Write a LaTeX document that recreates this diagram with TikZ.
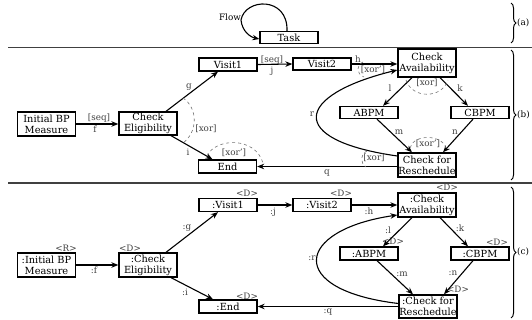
\documentclass[tikz,border=0pt]{standalone}
\usepackage{fontspec}
\setmainfont{DejaVu Serif}
\usetikzlibrary{arrows.meta,calc,decorations.pathreplacing}
\begin{document}
\begin{tikzpicture}[x=1pt,y=-1pt,
  task/.style={draw,line width=1.3pt,minimum width=58pt,minimum height=12pt,inner sep=0pt,align=center,font=\fontsize{9.8}{11}\selectfont},
  flow/.style={line width=1.1pt,-{Stealth[length=7pt,width=5.5pt]}},
  lbl/.style={font=\fontsize{8.8}{10}\selectfont,text=black!75,inner sep=0pt},
  gate/.style={dashed,black!55,line width=0.6pt},
  sep/.style={line width=1.3pt,black!75},
  brc/.style={decorate,decoration={brace,amplitude=5pt},line width=1pt}]
\useasboundingbox (0,0) rectangle (532,320);
\node[task] (task) at (289,37.5) {Task};
\node[lbl,text=black] (lflow) at (230,17) {Flow};
\draw[flow] ($(task.north)+(-2,0)$) .. controls (288,-4) and (245,-2) .. (241,20) .. controls (242,31) and (250,37) .. ($(task.west)+(0,1.5)$);
\draw[sep] (8,47.5) -- (532,47.5);
\draw[brc] (511,3) -- (511,43);
\node[lbl,anchor=west,text=black] (la) at (517,23) {(a)};
\node[task,minimum height=24pt] (ibp) at (46.5,124) {Initial BP\\Measure};
\node[task,minimum height=23pt] (ce) at (148,123.5) {Check\\Eligibility};
\node[task,minimum height=13pt] (v1) at (228,64.5) {Visit1};
\node[task] (v2) at (322,64) {Visit2};
\node[task,minimum height=28pt] (ca) at (427,63) {Check\\Availability};
\node[task] (abpm) at (369,112.5) {ABPM};
\node[task] (cbpm) at (480,112.5) {CBPM};
\node[task,minimum height=13pt] (en) at (227.5,166.5) {End};
\node[task,minimum height=24pt] (cfr) at (427,165) {Check for\\Reschedule};
\draw[flow] (ibp.east) -- (ibp.east -| ce.west);
\draw[flow] ($(ce.north)+(18,0)$) -- ($(v1.south)+(-10,0)$);
\draw[flow] ($(ce.south)+(23,0)$) -- ($(en.north)+(-15,0)$);
\draw[flow] (v1.east) -- (v2.west);
\draw[flow] (v2.east) -- (v2.east -| ca.west);
\draw[flow] ($(ca.south)+(-15,0)$) -- ($(abpm.north)+(14,0)$);
\draw[flow] ($(ca.south)+(13,0)$) -- ($(cbpm.north)+(-12,0)$);
\draw[flow] ($(abpm.south)+(8,0)$) -- ($(cfr.north)+(-15,0)$);
\draw[flow] ($(cbpm.south)+(-7,0)$) -- ($(cfr.north)+(16,0)$);
\draw[flow] (cfr.west |- en.east) -- (en.east);
\draw[flow] ($(cfr.west)+(0,-9)$) .. controls (285,140) and (295,95) .. ($(ca.west)+(0,7)$);
\draw[gate] (183,98) .. controls (198,108) and (198,132) .. (183,143);
\draw[gate] (207,156) .. controls (215,138) and (255,136) .. (263,163);
\draw[gate] (363,62) .. controls (356,65) and (356,74) .. (364,77);
\draw[gate] (406,80) .. controls (412,99) and (442,99) .. (448,80);
\draw[gate] (410,148) .. controls (413,134) and (442,134) .. (446,148);
\draw[gate] (367,151) .. controls (360,154) and (360,163) .. (366,167);
\node[lbl] (lseqf) at (99,118) {[seq]};
\node[lbl] (lf) at (95,129) {f};
\node[lbl] (lg) at (189,87) {g};
\node[lbl] (lxorce) at (206,129) {[xor]};
\node[lbl] (li) at (188,152) {i};
\node[lbl] (lxoren) at (234,153) {[xor']};
\node[lbl] (lseqj) at (272,60) {[seq]};
\node[lbl] (lj) at (272,71) {j};
\node[lbl] (lh) at (358,59) {h};
\node[lbl] (lxorca) at (373,70) {[xor']};
\node[lbl] (ll) at (390,88) {l};
\node[lbl] (lk) at (460,88) {k};
\node[lbl] (lxorlk) at (427,83) {[xor]};
\node[lbl] (lr) at (312,114) {r};
\node[lbl] (lm) at (399,132) {m};
\node[lbl] (ln) at (455,132) {n};
\node[lbl] (lxormn) at (428,144) {[xor']};
\node[lbl] (lxorcfr) at (374,158) {[xor]};
\node[lbl] (lq) at (327,173) {q};
\draw[sep] (8,183) -- (532,183);
\draw[brc] (511,50) -- (511,180);
\node[lbl,anchor=west,text=black] (lb) at (517,115) {(b)};
\node[task,minimum height=24pt] (ibp2) at (46.5,265) {:Initial BP\\Measure};
\node[task,minimum height=24pt] (ce2) at (148,265) {:Check\\Eligibility};
\node[task,minimum height=13pt] (v1c) at (228,205) {:Visit1};
\node[task,minimum height=13pt] (v2c) at (322,205) {:Visit2};
\node[task,minimum height=24pt] (ca2) at (427,205) {:Check\\Availability};
\node[task,minimum height=13pt] (abpm2) at (369,253.5) {:ABPM};
\node[task,minimum height=13pt] (cbpm2) at (480,253.5) {:CBPM};
\node[task,minimum height=13pt] (en2) at (228,306.5) {:End};
\node[task,minimum height=23pt] (cfr2) at (428,306.5) {:Check for\\Reschedule};
\node[lbl] (sr) at (66,248) {<R>};
\node[lbl] (sce) at (130,248) {<D>};
\node[lbl] (sv1) at (247,193) {<D>};
\node[lbl] (sv2) at (341,193) {<D>};
\node[lbl] (sca) at (447,187) {<D>};
\node[lbl] (sabpm) at (393,241) {<D>};
\node[lbl] (scbpm) at (497,242) {<D>};
\node[lbl] (sen) at (247,296) {<D>};
\node[lbl] (scfr) at (458,289) {<D>};
\draw[flow] (ibp2.east) -- (ce2.west);
\draw[flow] ($(ce2.north)+(18,0)$) -- ($(v1c.south)+(-10,0)$);
\draw[flow] ($(ce2.south)+(23,0)$) -- ($(en2.north)+(-15,0)$);
\draw[flow] (v1c.east) -- (v2c.west);
\draw[flow] (v2c.east) -- (v2c.east -| ca2.west);
\draw[flow] ($(ca2.south)+(-15,0)$) -- ($(abpm2.north)+(14,0)$);
\draw[flow] ($(ca2.south)+(13,0)$) -- ($(cbpm2.north)+(-12,0)$);
\draw[flow] ($(abpm2.south)+(8,0)$) -- ($(cfr2.north)+(-15,0)$);
\draw[flow] ($(cbpm2.south)+(-7,0)$) -- ($(cfr2.north)+(16,0)$);
\draw[flow] (cfr2.west |- en2.east) -- (en2.east);
\draw[flow] ($(cfr2.west)+(0,-3)$) .. controls (285,290) and (295,230) .. ($(ca2.west)+(0,10)$);
\node[lbl] (lf2) at (94,270) {:f};
\node[lbl] (lg2) at (187,228) {:g};
\node[lbl] (li2) at (185,292) {:i};
\node[lbl] (lj2) at (273,212) {:j};
\node[lbl] (lh2) at (369,211) {:h};
\node[lbl] (ll2) at (388,230) {:l};
\node[lbl] (lk2) at (460,228) {:k};
\node[lbl] (lm2) at (402,274) {:m};
\node[lbl] (ln2) at (453,273) {:n};
\node[lbl] (lr2) at (312,258) {:r};
\node[lbl] (lq2) at (328,312) {:q};
\draw[brc] (511,187) -- (511,318);
\node[lbl,anchor=west,text=black] (lc) at (517,252) {(c)};
\end{tikzpicture}
\end{document}
